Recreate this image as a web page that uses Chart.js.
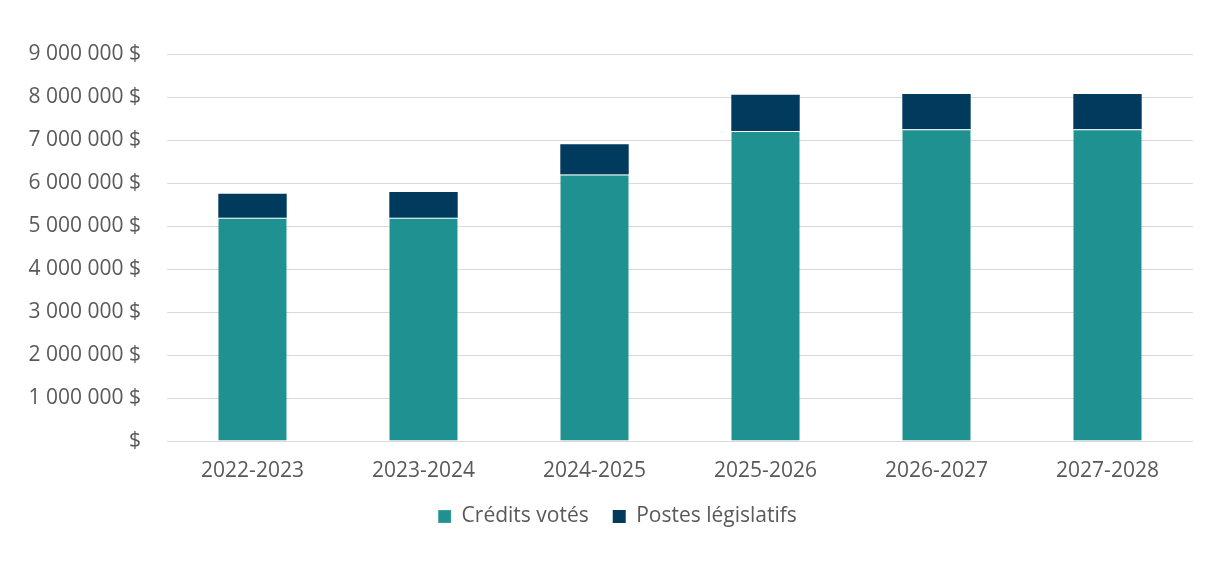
<!DOCTYPE html>
<html lang="fr">
<head>
<meta charset="utf-8">
<title>Crédits votés et postes législatifs</title>
<script src="https://cdn.jsdelivr.net/npm/chart.js@4/dist/chart.umd.min.js"></script>
<style>
    html, body { margin: 0; padding: 0; background: #ffffff; }
    #wrap { width: 1219px; height: 566px; }
</style>
</head>
<body>
<div id="wrap"><canvas id="chart" width="1219" height="566"></canvas></div>
<script>
// Chart data
const years = ['2022-2023', '2023-2024', '2024-2025', '2025-2026', '2026-2027', '2027-2028'];
const creditsVotes = [5190000, 5190000, 6200000, 7210000, 7250000, 7250000];
const postesLegislatifs = [560000, 600000, 700000, 840000, 820000, 820000];
const yTicks = [0, 1000000, 2000000, 3000000, 4000000, 5000000, 6000000, 7000000, 8000000, 9000000];

// Colours
const tealColor = '#1F9190';
const navyColor = '#003A5D';
const textColor = '#595959';
const gridColor = '#D9D9D9';

// Format a number like "5 000 000 $"
function formatDollars(value) {
    if (value === 0) {
        return '$';
    }
    return String(Math.round(value)).replace(/\B(?=(\d{3})+(?!\d))/g, ' ') + ' $';
}

// The legend in the original sits a bit right of the canvas centre
const legendShift = {
    id: 'legendShift',
    afterLayout(chart) {
        if (chart.legend) {
            chart.legend.left += 42;
        }
    }
};

Chart.defaults.font.family = '"Open Sans", "Noto Sans", sans-serif';
Chart.defaults.font.size = 21;
Chart.defaults.color = textColor;

const ctx = document.getElementById('chart');

new Chart(ctx, {
    type: 'bar',
    data: {
        labels: years,
        datasets: [
            {
                label: 'Crédits votés',
                data: creditsVotes,
                backgroundColor: tealColor,
                borderColor: '#ffffff',
                borderWidth: { top: 1 },
                borderSkipped: false,
                barPercentage: 0.4,
                categoryPercentage: 1
            },
            {
                label: 'Postes législatifs',
                data: postesLegislatifs,
                backgroundColor: navyColor,
                borderWidth: 0,
                barPercentage: 0.4,
                categoryPercentage: 1
            }
        ]
    },
    options: {
        responsive: false,
        devicePixelRatio: 1,
        animation: false,
        layout: {
            padding: { top: 54, right: 26, bottom: 29, left: 0 }
        },
        scales: {
            x: {
                stacked: true,
                grid: { display: false, drawTicks: false },
                border: { display: false },
                ticks: { padding: 17, color: textColor },
                afterFit: function(scale) {
                    // padding is counted twice by default, keep the legend close
                    scale.height = 41;
                }
            },
            y: {
                stacked: true,
                min: 0,
                max: 9000000,
                afterBuildTicks: function(scale) {
                    scale.ticks = yTicks.map(v => ({ value: v }));
                },
                grid: { color: gridColor, lineWidth: 1, drawTicks: false },
                border: { display: false },
                ticks: {
                    padding: 26,
                    color: textColor,
                    callback: function(value) {
                        return formatDollars(value);
                    }
                },
                afterFit: function(scale) {
                    scale.width = 167;
                }
            }
        },
        plugins: {
            legend: {
                position: 'bottom',
                labels: {
                    boxWidth: 13,
                    boxHeight: 13,
                    padding: 24,
                    color: textColor
                }
            },
            tooltip: { enabled: false }
        }
    },
    plugins: [legendShift]
});
</script>
</body>
</html>
